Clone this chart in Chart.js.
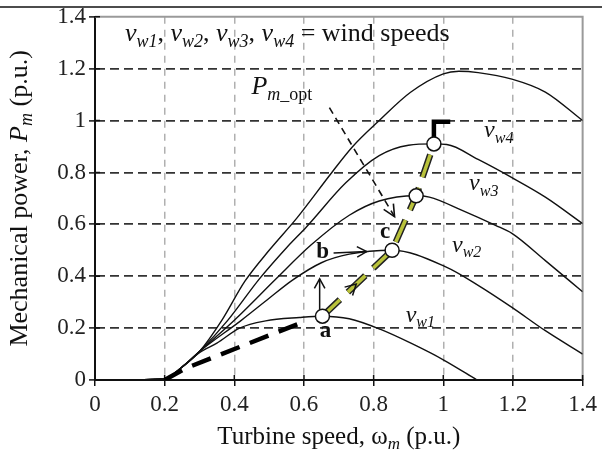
<!DOCTYPE html>
<html>
<head>
<meta charset="utf-8">
<script src="https://cdn.jsdelivr.net/npm/chart.js@4.4.0/dist/chart.umd.min.js"></script>
<style>
  html, body { margin: 0; padding: 0; background: #fff; overflow: hidden; }
  #wrap { width: 602px; height: 453px; }
</style>
</head>
<body>
<div id="wrap"><canvas id="myChart"></canvas></div>
<script>
// turbine speed (p.u.) / mechanical power (p.u.)
const vw1Speed = [0.1, 0.2, 0.25, 0.3, 0.35, 0.415, 0.49, 0.587, 0.653, 0.73, 0.82, 0.91, 1.0, 1.097];
const vw1Power = [0, 0.005, 0.05, 0.105, 0.142, 0.2, 0.228, 0.241, 0.246, 0.236, 0.195, 0.14, 0.078, 0];

const vw2Speed = [0.1, 0.2, 0.25, 0.3, 0.42, 0.5, 0.567, 0.65, 0.73, 0.853, 1.007, 1.1, 1.197, 1.293, 1.4];
const vw2Power = [0, 0.005, 0.05, 0.11, 0.23, 0.315, 0.385, 0.452, 0.485, 0.5, 0.436, 0.365, 0.28, 0.19, 0.1];

const vw3Speed = [0.1, 0.2, 0.25, 0.3, 0.4, 0.52, 0.62, 0.73, 0.816, 0.922, 0.96, 1.054, 1.15, 1.197, 1.293, 1.4];
const vw3Power = [0, 0.005, 0.05, 0.11, 0.23, 0.39, 0.52, 0.635, 0.69, 0.71, 0.705, 0.654, 0.596, 0.565, 0.46, 0.34];

const vw4Speed = [0.1, 0.2, 0.25, 0.3, 0.381, 0.472, 0.55, 0.607, 0.72, 0.816, 0.9, 0.973, 1.01, 1.1, 1.197, 1.293, 1.4];
const vw4Power = [0, 0.005, 0.05, 0.11, 0.23, 0.39, 0.51, 0.59, 0.76, 0.865, 0.905, 0.91, 0.908, 0.85, 0.78, 0.705, 0.603];

const vw5Speed = [0.1, 0.2, 0.25, 0.3, 0.364, 0.43, 0.5, 0.58, 0.68, 0.74, 0.816, 0.906, 1.0, 1.045, 1.1, 1.197, 1.293, 1.4];
const vw5Power = [0, 0.005, 0.05, 0.11, 0.23, 0.38, 0.5, 0.625, 0.8, 0.9, 1.0, 1.109, 1.18, 1.19, 1.185, 1.16, 1.11, 1.0];

// maximum power points (a, c, ...) and the optimum trajectory through them
const peakSpeed = [0.653, 0.853, 0.922, 0.973];
const peakPower = [0.246, 0.5, 0.71, 0.91];

// start-up segment and the limit at the top of the trajectory
const startSpeed = [0.2, 0.26, 0.6];
const startPower = [0, 0.045, 0.225];
const limitSpeed = [0.973, 0.973, 1.02];
const limitPower = [0.91, 0.995, 0.995];

const xTicks = [0, 0.2, 0.4, 0.6, 0.8, 1, 1.2, 1.4];
const yTicks = [0, 0.2, 0.4, 0.6, 0.8, 1, 1.2, 1.4];

const SERIF = '"Liberation Serif", "Times New Roman", serif';

const pts = (xs, ys) => xs.map((x, i) => ({x: x, y: ys[i]}));
const tickText = v => String(+Number(v).toFixed(1));

function curve(xs, ys) {
    return {
        data: pts(xs, ys),
        showLine: true,
        borderColor: '#111',
        borderWidth: 1.4,
        pointRadius: 0,
        cubicInterpolationMode: 'monotone',
        order: 5
    };
}

// draws text made of pieces with their own font and baseline shift
function richWidth(ctx, parts) {
    let w = 0;
    parts.forEach(p => { ctx.font = p.font; w += ctx.measureText(p.t).width; });
    return w;
}
function drawRich(ctx, x, y, parts) {
    ctx.textBaseline = 'alphabetic';
    ctx.textAlign = 'left';
    parts.forEach(p => {
        ctx.font = p.font;
        ctx.fillText(p.t, x, y + (p.dy || 0));
        x += ctx.measureText(p.t).width;
    });
}
function vw(n, size) {
    return [
        {t: 'v', font: 'italic ' + size + 'px ' + SERIF},
        {t: 'w' + n, font: 'italic ' + Math.round(size * 0.68) + 'px ' + SERIF, dy: size * 0.22}
    ];
}

function arrowHead(ctx, x1, y1, x2, y2, len, ang) {
    const a = Math.atan2(y2 - y1, x2 - x1);
    ctx.beginPath();
    ctx.moveTo(x2 - len * Math.cos(a - ang), y2 - len * Math.sin(a - ang));
    ctx.lineTo(x2, y2);
    ctx.lineTo(x2 - len * Math.cos(a + ang), y2 - len * Math.sin(a + ang));
    ctx.stroke();
}

const decor = {
    id: 'decor',
    beforeDraw(chart) {
        const ctx = chart.ctx;
        ctx.save();
        ctx.fillStyle = '#fff';
        ctx.fillRect(0, 0, chart.width, chart.height);
        // cropped page header rule
        ctx.strokeStyle = '#111';
        ctx.lineWidth = 1.5;
        ctx.beginPath();
        ctx.moveTo(0, 7);
        ctx.lineTo(chart.width, 7);
        ctx.stroke();
        ctx.restore();
    },
    beforeDatasetsDraw(chart) {
        const {ctx, chartArea: a, scales: {x, y}} = chart;
        ctx.save();
        ctx.strokeStyle = '#9a9a9a';
        ctx.lineWidth = 2;
        ctx.beginPath();
        ctx.moveTo(a.left, a.top);
        ctx.lineTo(a.right, a.top);
        ctx.lineTo(a.right, a.bottom);
        ctx.stroke();
        // ticks crossing to the inside
        ctx.strokeStyle = '#111';
        ctx.lineWidth = 1.5;
        ctx.beginPath();
        xTicks.forEach(v => {
            const px = x.getPixelForValue(v);
            ctx.moveTo(px, a.bottom);
            ctx.lineTo(px, a.bottom - 5);
        });
        yTicks.forEach(v => {
            const py = y.getPixelForValue(v);
            ctx.moveTo(a.left, py);
            ctx.lineTo(a.left + 5, py);
        });
        ctx.stroke();
        ctx.restore();
    },
    afterDatasetsDraw(chart) {
        const {ctx, chartArea: a, scales: {x, y}} = chart;
        const X = v => x.getPixelForValue(v);
        const Y = v => y.getPixelForValue(v);
        ctx.save();
        ctx.fillStyle = '#111';
        ctx.strokeStyle = '#111';

        // legend text
        const lf = '26px ' + SERIF;
        drawRich(ctx, X(0.086), Y(1.305), [
            ...vw(1, 26), {t: ', ', font: lf},
            ...vw(2, 26), {t: ', ', font: lf},
            ...vw(3, 26), {t: ', ', font: lf},
            ...vw(4, 26), {t: ' = wind speeds', font: lf}
        ]);

        // curve names
        drawRich(ctx, X(1.117), Y(0.935), vw(4, 24));
        drawRich(ctx, X(1.074), Y(0.731), vw(3, 24));
        drawRich(ctx, X(1.025), Y(0.494), vw(2, 24));
        drawRich(ctx, X(0.892), Y(0.224), vw(1, 24));

        // operating points
        drawRich(ctx, X(0.645), Y(0.165), [{t: 'a', font: 'bold 23px ' + SERIF}]);
        drawRich(ctx, X(0.635), Y(0.47), [{t: 'b', font: 'bold 23px ' + SERIF}]);
        drawRich(ctx, X(0.818), Y(0.548), [{t: 'c', font: 'bold 23px ' + SERIF}]);

        // P_m_opt label and dashed pointer
        drawRich(ctx, X(0.449), Y(1.104), [
            {t: 'P', font: 'italic 26px ' + SERIF},
            {t: 'm', font: 'italic 18px ' + SERIF, dy: 6},
            {t: '_opt', font: '18px ' + SERIF, dy: 6}
        ]);
        ctx.lineWidth = 1.6;
        ctx.setLineDash([7, 5]);
        ctx.beginPath();
        ctx.moveTo(X(0.673), Y(1.05));
        ctx.lineTo(X(0.86), Y(0.63));
        ctx.stroke();
        ctx.setLineDash([]);
        arrowHead(ctx, X(0.673), Y(1.05), X(0.86), Y(0.63), 13, 0.45);

        // a -> b and b -> c arrows
        ctx.lineWidth = 1.5;
        ctx.beginPath();
        ctx.moveTo(X(0.645), Y(0.272));
        ctx.lineTo(X(0.645), Y(0.39));
        ctx.stroke();
        arrowHead(ctx, X(0.645), Y(0.272), X(0.645), Y(0.39), 11, 0.5);
        ctx.beginPath();
        ctx.moveTo(X(0.685), Y(0.49));
        ctx.lineTo(X(0.78), Y(0.495));
        ctx.stroke();
        arrowHead(ctx, X(0.685), Y(0.49), X(0.78), Y(0.495), 11, 0.5);
        // along the optimum trajectory
        arrowHead(ctx, X(0.653), Y(0.246), X(0.75), Y(0.37), 12, 0.5);

        // axis titles
        const tf = '25px ' + SERIF;
        const xt = [
            {t: 'Turbine speed, \u03c9', font: tf},
            {t: 'm', font: 'italic 17px ' + SERIF, dy: 5},
            {t: ' (p.u.)', font: tf}
        ];
        drawRich(ctx, (a.left + a.right) / 2 - richWidth(ctx, xt) / 2, 444, xt);
        const yf = '26px ' + SERIF;
        const yt = [
            {t: 'Mechanical power, ', font: yf},
            {t: 'P', font: 'italic ' + yf},
            {t: 'm', font: 'italic 18px ' + SERIF, dy: 5},
            {t: ' (p.u.)', font: yf}
        ];
        ctx.translate(27, (a.top + a.bottom) / 2);
        ctx.rotate(-Math.PI / 2);
        drawRich(ctx, -richWidth(ctx, yt) / 2, 0, yt);
        ctx.restore();
    }
};

const ctx = document.getElementById('myChart');

new Chart(ctx, {
    type: 'scatter',
    data: {
        datasets: [
            {
                data: pts(peakSpeed, peakPower),
                pointRadius: 7,
                pointBackgroundColor: '#fff',
                pointBorderColor: '#111',
                pointBorderWidth: 1.5,
                showLine: false,
                order: 0
            },
            {
                data: pts(peakSpeed, peakPower),
                showLine: true,
                borderColor: '#b9c23b',
                borderWidth: 3.5,
                borderDash: [24, 11],
                pointRadius: 0,
                order: 1
            },
            {
                data: pts(peakSpeed, peakPower),
                showLine: true,
                borderColor: '#222',
                borderWidth: 6.5,
                borderDash: [24, 11],
                pointRadius: 0,
                order: 2
            },
            {
                data: pts(startSpeed, startPower),
                showLine: true,
                borderColor: '#000',
                borderWidth: 4.5,
                borderDash: [20, 11],
                pointRadius: 0,
                order: 3
            },
            {
                data: pts(limitSpeed, limitPower),
                showLine: true,
                borderColor: '#000',
                borderWidth: 4.5,
                pointRadius: 0,
                order: 3
            },
            curve(vw1Speed, vw1Power),
            curve(vw2Speed, vw2Power),
            curve(vw3Speed, vw3Power),
            curve(vw4Speed, vw4Power),
            curve(vw5Speed, vw5Power)
        ]
    },
    options: {
        responsive: true,
        maintainAspectRatio: false,
        animation: false,
        events: [],
        layout: { padding: { left: 0, top: 16, right: 18, bottom: 0 } },
        plugins: {
            legend: { display: false },
            tooltip: { enabled: false }
        },
        scales: {
            x: {
                type: 'linear',
                min: 0,
                max: 1.4,
                afterBuildTicks: s => { s.ticks = xTicks.map(v => ({value: v})); },
                afterFit: s => { s.height = 73; },
                ticks: {
                    font: { family: SERIF, size: 23 },
                    color: '#222',
                    padding: 5,
                    maxRotation: 0,
                    autoSkip: false,
                    callback: tickText
                },
                grid: {
                    color: c => (c.tick && (c.tick.value < 0.01 || c.tick.value > 1.39)) ? 'rgba(0,0,0,0)' : '#b0b0b0',
                    lineWidth: 1.5,
                    tickColor: '#111',
                    tickWidth: 1.5,
                    tickLength: 6
                },
                border: { color: '#111', width: 2, dash: [7, 6] }
            },
            y: {
                min: 0,
                max: 1.4,
                afterBuildTicks: s => { s.ticks = yTicks.map(v => ({value: v})); },
                afterFit: s => { s.width = 95; },
                ticks: {
                    font: { family: SERIF, size: 23 },
                    color: '#222',
                    padding: 3,
                    autoSkip: false,
                    callback: tickText
                },
                grid: {
                    color: c => (c.tick && (c.tick.value < 0.01 || c.tick.value > 1.39)) ? 'rgba(0,0,0,0)' : '#333',
                    lineWidth: 1.8,
                    tickColor: '#111',
                    tickWidth: 1.5,
                    tickLength: 6
                },
                border: { color: '#111', width: 2, dash: [9, 5] }
            }
        }
    },
    plugins: [decor]
});
</script>
</body>
</html>
